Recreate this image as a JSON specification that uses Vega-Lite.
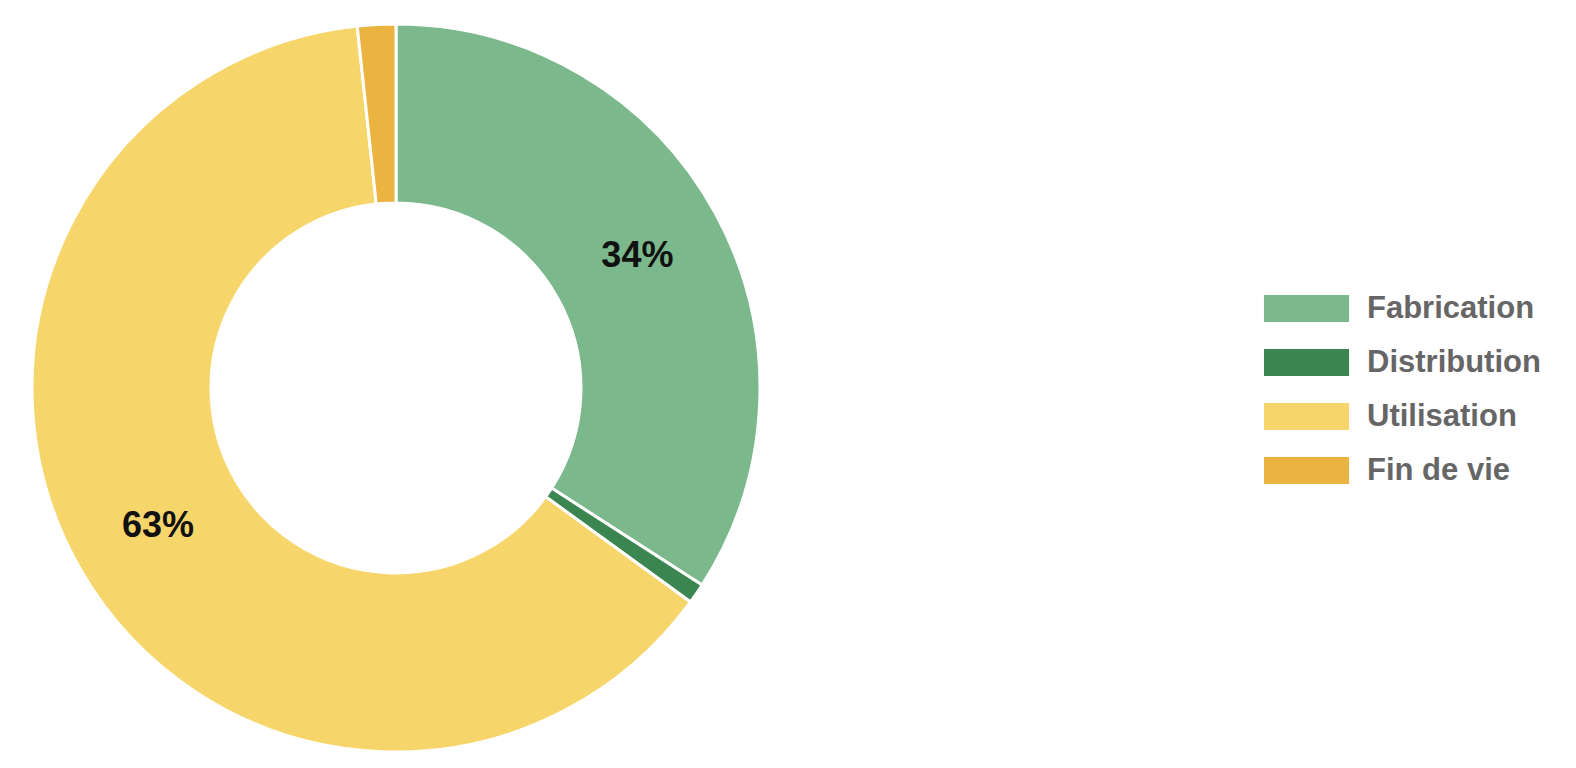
{
  "$schema": "https://vega.github.io/schema/vega-lite/v6.json",
  "autosize": "none",
  "padding": {"left": 0, "top": 8, "right": 784, "bottom": 0},
  "width": 792,
  "height": 760,
  "background": "white",
  "config": {"view": {"stroke": null}},
  "data": {
    "values": [
      {"phase": "Fabrication", "share": 34.1, "rank": 1, "label": "34%"},
      {"phase": "Distribution", "share": 0.9, "rank": 2, "label": ""},
      {"phase": "Utilisation", "share": 63.3, "rank": 3, "label": "63%"},
      {"phase": "Fin de vie", "share": 1.7, "rank": 4, "label": ""}
    ]
  },
  "encoding": {
    "theta": {"field": "share", "type": "quantitative", "stack": true},
    "order": {"field": "rank", "type": "quantitative"}
  },
  "layer": [
    {
      "mark": {"type": "arc", "outerRadius": 364, "innerRadius": 185, "stroke": "white", "strokeWidth": 3},
      "encoding": {
        "color": {
          "field": "phase",
          "type": "nominal",
          "sort": ["Fabrication", "Distribution", "Utilisation", "Fin de vie"],
          "scale": {
            "domain": ["Fabrication", "Distribution", "Utilisation", "Fin de vie"],
            "range": ["#7bb88c", "#3a8550", "#f6d66b", "#ebb440"]
          },
          "legend": {
            "title": null,
            "orient": "none",
            "legendX": 1291,
            "legendY": 285,
            "padding": 0,
            "symbolType": "M-3.15,-1H3.15V1H-3.15Z",
            "symbolSize": 729,
            "symbolStrokeWidth": 0,
            "symbolOpacity": 1,
            "labelOffset": 45,
            "labelFont": "Liberation Sans",
            "labelFontWeight": "bold",
            "labelFontSize": 31,
            "labelColor": "#666666",
            "labelLimit": 400,
            "rowPadding": 22
          }
        }
      }
    },
    {
      "mark": {"type": "text", "radius": 275, "font": "Liberation Sans", "fontWeight": "bold", "fontSize": 36, "color": "#111111", "baseline": "middle", "align": "center"},
      "encoding": {
        "text": {"field": "label", "type": "nominal"}
      }
    }
  ]
}
